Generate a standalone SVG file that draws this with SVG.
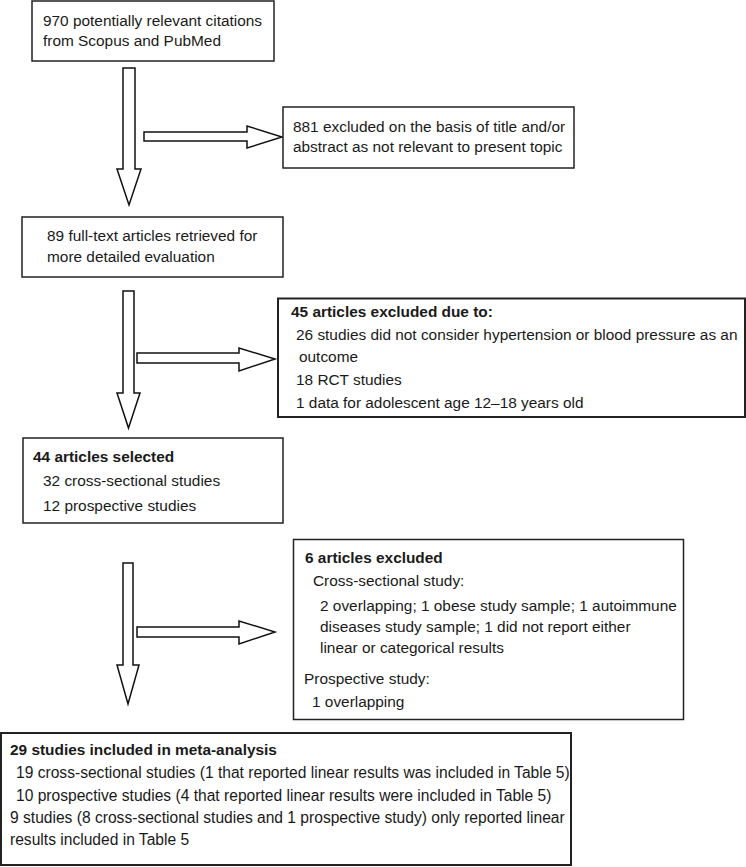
<svg xmlns="http://www.w3.org/2000/svg" width="746" height="867" viewBox="0 0 746 867">
<style>
.box{fill:#fff;stroke:#222;stroke-width:1.5}
.box2{fill:#fff;stroke:#222;stroke-width:2}
.arr{fill:#fff;stroke:#111;stroke-width:1.5;stroke-linejoin:miter}
text{font-family:"Liberation Sans",Arial,sans-serif;font-size:15.4px;fill:#1a1a1a}
.b{font-weight:bold}
.l{font-size:15.6px}
</style>
<rect width="746" height="867" fill="#fff"/>
<g id="connectors">
<polygon class="arr" points="123,68 135,68 135,169 141,169 129,205 117,169 123,169"/>
<polygon class="arr" points="144,132 247,132 247,126 282,137 247,148 247,141 144,141"/>
<polygon class="arr" points="123,291 134,291 134,393 140,393 128.5,428 117,393 123,393"/>
<polygon class="arr" points="137,353 239,353 239,348 275,359 239,371 239,363 137,363"/>
<polygon class="arr" points="123,563 133,563 133,665 139,665 128,704 117,665 123,665"/>
<polygon class="arr" points="137,627 239,627 239,621 275,632 239,644 239,637 137,637"/>
</g>
<g id="n1">
<rect class="box" x="32" y="1" width="242" height="60"/>
<text x="43" y="26">970 potentially relevant citations</text>
<text x="43" y="46">from Scopus and PubMed</text>
</g>
<g id="n2">
<rect class="box" x="283" y="107" width="291" height="61"/>
<text x="293" y="132">881 excluded on the basis of title and/or</text>
<text x="293" y="152">abstract as not relevant to present topic</text>
</g>
<g id="n3">
<rect class="box" x="22" y="217" width="261" height="60"/>
<text x="47" y="241">89 full-text articles retrieved for</text>
<text x="47" y="262">more detailed evaluation</text>
</g>
<g id="n4">
<rect class="box2" x="278" y="298.5" width="467" height="118.5"/>
<text class="b" x="291" y="317">45 articles excluded due to:</text>
<text x="296" y="340">26 studies did not consider hypertension or blood pressure as an</text>
<text x="299" y="362">outcome</text>
<text x="296" y="385">18 RCT studies</text>
<text x="296" y="408">1 data for adolescent age 12–18 years old</text>
</g>
<g id="n5">
<rect class="box" x="23" y="438" width="260" height="85"/>
<text class="b" x="33" y="462">44 articles selected</text>
<text x="43" y="486">32 cross-sectional studies</text>
<text x="43" y="511">12 prospective studies</text>
</g>
<g id="n6">
<rect class="box" x="293.5" y="539.5" width="390" height="180"/>
<text class="b" x="305" y="563">6 articles excluded</text>
<text x="313" y="586">Cross-sectional study:</text>
<text x="320" y="611">2 overlapping; 1 obese study sample; 1 autoimmune</text>
<text x="320" y="632">diseases study sample; 1 did not report either</text>
<text x="320" y="653">linear or categorical results</text>
<text x="304" y="684">Prospective study:</text>
<text x="312" y="707">1 overlapping</text>
</g>
<g id="n7">
<rect class="box2" x="1" y="733" width="570" height="132"/>
<text class="b" x="10" y="755">29 studies included in meta-analysis</text>
<text class="l" x="16" y="778">19 cross-sectional studies (1 that reported linear results was included in Table 5)</text>
<text class="l" x="16" y="801">10 prospective studies (4 that reported linear results were included in Table 5)</text>
<text class="l" x="10" y="823">9 studies (8 cross-sectional studies and 1 prospective study) only reported linear</text>
<text class="l" x="10" y="845">results included in Table 5</text>
</g>
</svg>
